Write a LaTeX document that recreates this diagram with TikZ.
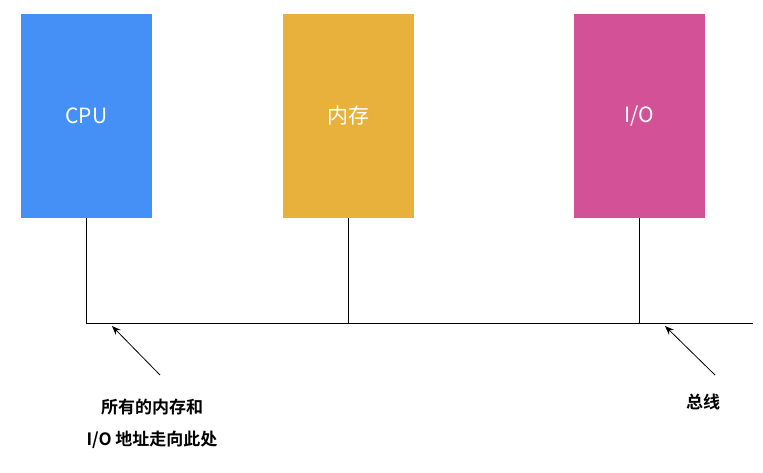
\documentclass[tikz,border=0pt]{standalone}
\usepackage{fontspec}
\setmainfont{Noto Sans CJK SC}
\newfontfamily\cjkbold{Noto Sans CJK SC Bold}
\usetikzlibrary{arrows.meta}
\definecolor{cpublue}{HTML}{4590F7}
\definecolor{memorange}{HTML}{E8B13C}
\definecolor{iopink}{HTML}{D25197}

\begin{document}
\begin{tikzpicture}[
  x=1pt, y=-1pt,
  unit/.style={minimum width=131pt, minimum height=204pt, inner sep=0pt,
    text=white, font=\fontsize{21}{25}\selectfont},
  note/.style={align=center, font=\cjkbold\fontsize{17}{32}\selectfont},
  arrow/.style={-{Stealth[length=9pt,width=7pt]}, thick}
]
\useasboundingbox (0,0) rectangle (763,473);
\node[unit, fill=cpublue] (cpu) at (86.5,116) {CPU};
\node[unit, fill=memorange] (mem) at (348,116) {内存};
\node[unit, fill=iopink] (io) at (639.5,116) {I/O};

% bus
\coordinate (busl) at (86,323);
\coordinate (busr) at (753,323);
\draw[thick] (busl) -- (busr);
\draw[thick] (cpu.south -| busl) -- (busl);
\draw[thick] (mem.south) -- (mem.south |- busl);
\draw[thick] (io.south) -- (io.south |- busl);

% labels
\node[note] (addr) at (152,424) {所有的内存和\\I/O 地址走向此处};
\node[note] (bus) at (703,402) {总线};
\coordinate (addrtail) at (160,375);
\coordinate (addrtip) at (112,326);
\coordinate (bustail) at (715,375);
\coordinate (bustip) at (665,326);
\draw[arrow] (addrtail) -- (addrtip);
\draw[arrow] (bustail) -- (bustip);
\end{tikzpicture}
\end{document}
